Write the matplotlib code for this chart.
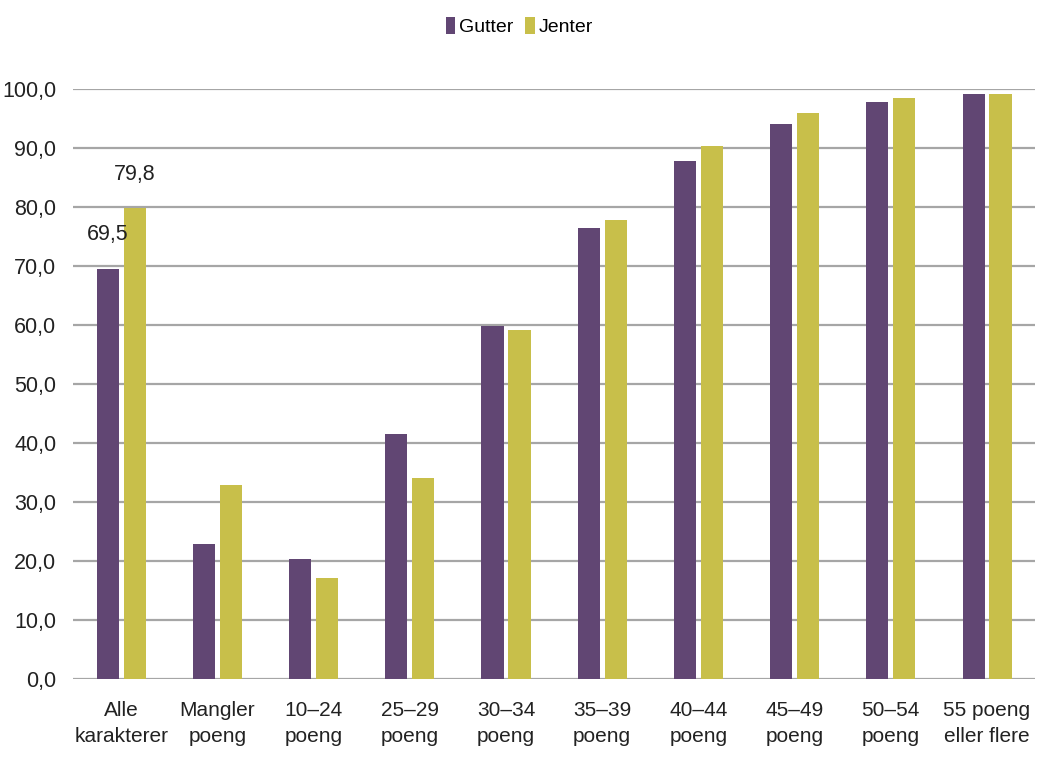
import numpy as np
import matplotlib.pyplot as plt

kategorier = ["Alle\nkarakterer", "Mangler\npoeng", "10–24\npoeng", "25–29\npoeng",
              "30–34\npoeng", "35–39\npoeng", "40–44\npoeng", "45–49\npoeng",
              "50–54\npoeng", "55 poeng\neller flere"]
gutter = [69.5, 22.9, 20.4, 41.6, 59.8, 76.5, 87.8, 94.1, 97.8, 99.1]
jenter = [79.8, 32.8, 17.2, 34.1, 59.1, 77.8, 90.4, 96.0, 98.5, 99.1]

plt.rcParams['font.family'] = ['Liberation Sans', 'DejaVu Sans']

farge_g = '#614673'
farge_j = '#c8bf4a'

fig = plt.figure(figsize=(10.39, 7.65), dpi=100)
ax = fig.add_axes([0.0703, 0.1124, 0.926, 0.7713])

x = np.arange(len(kategorier))
b = 0.23
ax.bar(x - 0.14, gutter, width=b, color=farge_g, label='Gutter', zorder=3)
ax.bar(x + 0.14, jenter, width=b, color=farge_j, label='Jenter', zorder=3)

# verdietiketter bare paa forste gruppe
ax.annotate('69,5', (x[0] - 0.14, gutter[0]), xytext=(0, 17), textcoords='offset points',
            ha='center', va='bottom', fontsize=15.5, color='#222222')
ax.annotate('79,8', (x[0] + 0.14, jenter[0]), xytext=(0, 17), textcoords='offset points',
            ha='center', va='bottom', fontsize=15.5, color='#222222')

ax.set_xlim(-0.5, len(kategorier) - 0.5)
ax.set_ylim(0, 100)
ax.set_yticks(np.arange(0, 101, 10))
ax.set_yticklabels([f"{v:.1f}".replace('.', ',') for v in np.arange(0, 101, 10)])
ax.set_xticks(x)
ax.set_xticklabels(kategorier, linespacing=1.45)
ax.tick_params(axis='both', length=0, labelsize=15.5, colors='#222222')
ax.tick_params(axis='x', labelsize=15, pad=16)
ax.tick_params(axis='y', pad=12)

ax.grid(axis='y', color='#a6a6a6', linewidth=1.6, zorder=0)
for s in ax.spines.values():
    s.set_visible(False)

fig.legend(loc='upper center', bbox_to_anchor=(0.5, 1.0), ncol=2, frameon=False,
           fontsize=14, handlelength=0.5, handleheight=0.9, handletextpad=0.2,
           columnspacing=0.6)

fig.savefig('out.png', dpi=100)
